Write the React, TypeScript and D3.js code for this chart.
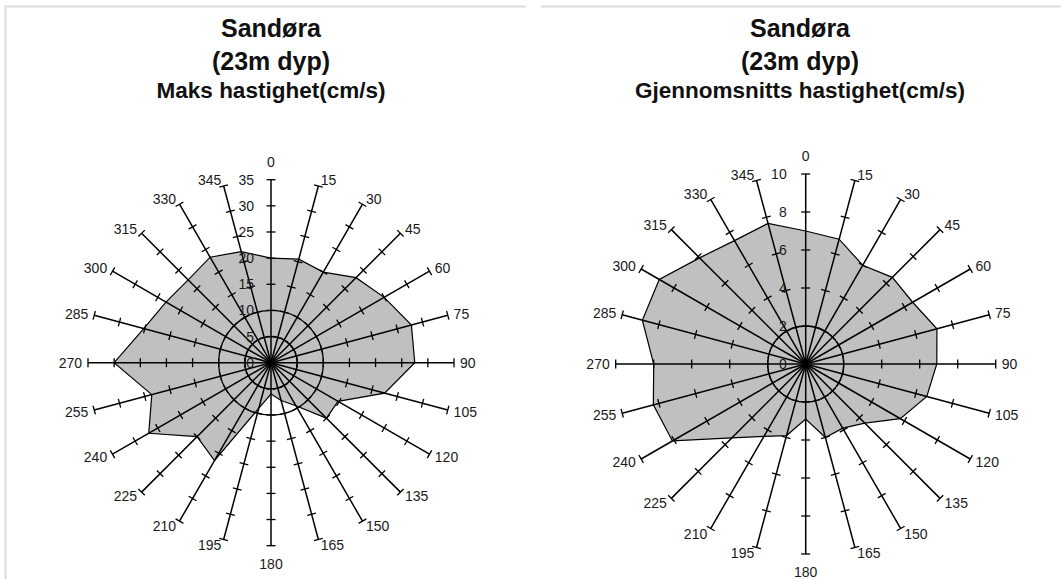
import React from "react";
import * as d3 from "d3";

// current directions (degrees), same for both roses
const directions = [0, 15, 30, 45, 60, 75, 90, 105, 120, 135, 150, 165, 180, 195, 210, 225, 240, 255, 270, 285, 300, 315, 330, 345];

// max speed (cm/s) per direction
const maxSpeed = [20, 20.5, 20, 23, 25, 27.8, 27.5, 22.5, 14.8, 15, 9.5, 7.5, 6, 9, 21.6, 20, 27, 23.6, 30, 25.2, 23.2, 22.4, 23.3, 22];
// mean speed (cm/s) per direction
const meanSpeed = [7.0, 6.8, 6.0, 6.45, 6.5, 7.15, 6.9, 6.6, 5.75, 4.4, 3.9, 4.0, 2.9, 3.9, 4.4, 5.5, 8.1, 8.3, 8.0, 8.9, 8.9, 7.9, 7.5, 7.66];

const maxTicks = [0, 5, 10, 15, 20, 25, 30, 35];
const meanTicks = [0, 2, 4, 6, 8, 10];
const maxRings = [5, 10];
const meanRings = [2];

const titleLines = ["Sandøra", "(23m dyp)"];
const leftSub = "Maks hastighet(cm/s)";
const rightSub = "Gjennomsnitts hastighet(cm/s)";

const font = "'Liberation Sans', Arial, sans-serif";

const rad = (d: number) => (d * Math.PI) / 180;

const Radar = ({ cx, cy, outer, ticks, values, rings, valueGap }: any) => {
  const max = ticks[ticks.length - 1];
  const r = d3.scaleLinear().domain([0, max]).range([0, outer]);
  const shape = d3
    .lineRadial<number>()
    .angle((_, i) => rad(directions[i]))
    .radius((d) => r(d))
    .curve(d3.curveLinearClosed);

  return (
    <g transform={`translate(${cx},${cy})`}>
      <path d={shape(values) || ""} fill="#c0c0c0" stroke="none" />
      {rings.map((v: number) => (
        <circle key={v} r={r(v)} fill="none" stroke="#000" strokeWidth={1.3} />
      ))}
      {directions.map((deg) => {
        const a = rad(deg);
        const s = Math.sin(a);
        const c = Math.cos(a);
        const ex = s * outer;
        const ey = -c * outer;
        let lx = 0, ly = 0, anchor = "middle";
        if (Math.abs(s) < 0.1) {
          ly = -c * (outer + 18);
        } else {
          lx = ex + Math.sign(s) * (1 + 5 * Math.abs(s));
          ly = ey - c * 6;
          anchor = s > 0 ? "start" : "end";
        }
        return (
          <g key={deg}>
            <line x1={0} y1={0} x2={ex} y2={ey} stroke="#000" strokeWidth={1.5} />
            {ticks.slice(1).map((t: number) => {
              const px = s * r(t);
              const py = -c * r(t);
              return (
                <line key={t} x1={px - c * 4.5} y1={py - s * 4.5} x2={px + c * 4.5} y2={py + s * 4.5}
                  stroke="#000" strokeWidth={1.3} />
              );
            })}
            <text x={lx} y={ly} textAnchor={anchor} dominantBaseline="central"
              fontFamily={font} fontSize={14} fill="#1a1a1a">{deg}</text>
          </g>
        );
      })}
      <path d={shape(values) || ""} fill="none" stroke="#000" strokeWidth={1.2} />
      {ticks.map((t: number) => (
        <text key={t} x={-valueGap} y={-r(t)} textAnchor="end" dominantBaseline="central"
          fontFamily={font} fontSize={14} fill="#1a1a1a">{t}</text>
      ))}
    </g>
  );
};

const Titles = ({ x, sub }: any) => (
  <g fontFamily={font} fontWeight="bold" fill="#111" textAnchor="middle">
    <text x={x} y={37} fontSize={25}>{titleLines[0]}</text>
    <text x={x} y={70} fontSize={25}>{titleLines[1]}</text>
    <text x={x} y={98} fontSize={22.5}>{sub}</text>
  </g>
);

export default function App() {
  return (
    <svg width={1061} height={579} style={{ position: "absolute", left: 0, top: 0, background: "#fff" }}>
      <rect width={1061} height={579} fill="#fff" />
      <path d="M5.5,579 V6.5 H526" fill="none" stroke="#dcdcdc" strokeWidth={2} />
      <path d="M541,6.5 H1061" fill="none" stroke="#dcdcdc" strokeWidth={2} />
      <Titles x={271} sub={leftSub} />
      <Titles x={800} sub={rightSub} />
      <Radar cx={271} cy={362.7} outer={183} ticks={maxTicks} values={maxSpeed} rings={maxRings} valueGap={17} />
      <Radar cx={805.7} cy={364} outer={190} ticks={meanTicks} values={meanSpeed} rings={meanRings} valueGap={19} />
    </svg>
  );
}
